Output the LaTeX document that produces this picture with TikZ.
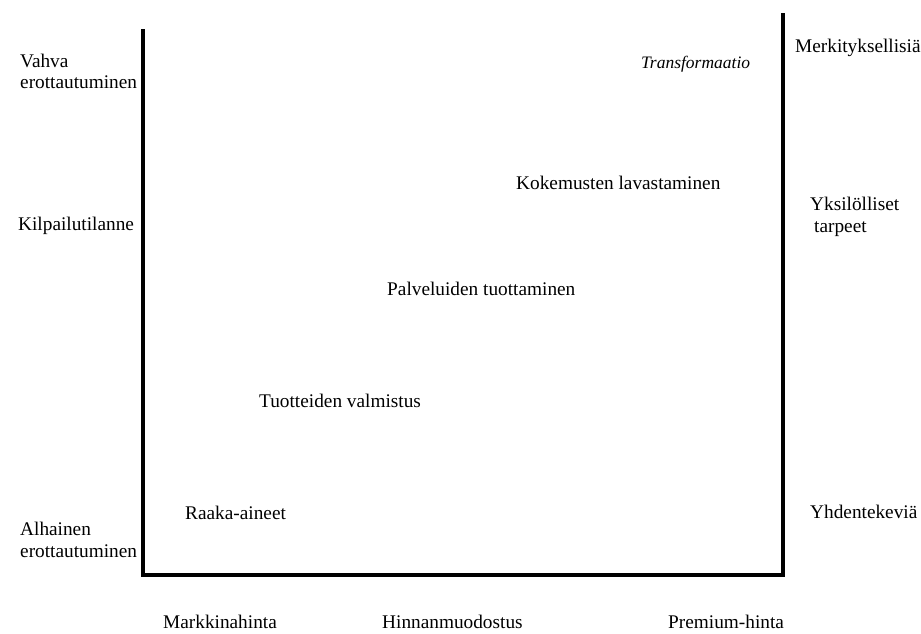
\documentclass[tikz,border=0pt]{standalone}
\usepackage{fontspec}
\setmainfont{Liberation Serif}
\begin{document}
\begin{tikzpicture}[x=1pt,y=-1pt,
  lbl/.style={anchor=base west,inner sep=0pt,font=\fontsize{19.3}{22}\selectfont},
  axis/.style={line width=4pt,line cap=rect}]
\useasboundingbox (0,0) rectangle (921,633);
% labels on the left
\node[lbl] (vahva) at (20,67) {Vahva};
\node[lbl] (vahva2) at (20,88) {erottautuminen};
\node[lbl] (kilp) at (18,230) {Kilpailutilanne};
\node[lbl] (alh) at (20,535) {Alhainen};
\node[lbl] (alh2) at (20,557) {erottautuminen};
% labels inside the frame
\node[lbl,font=\fontsize{17.5}{20}\selectfont\itshape] (trans) at (641,68) {Transformaatio};
\node[lbl] (kok) at (516,189) {Kokemusten lavastaminen};
\node[lbl] (palv) at (387,295) {Palveluiden tuottaminen};
\node[lbl] (tuot) at (259,407) {Tuotteiden valmistus};
\node[lbl] (raaka) at (185,519) {Raaka-aineet};
% labels on the right
\node[lbl] (merk) at (795,52) {Merkityksellisiä};
\node[lbl] (yks) at (810,210) {Yksilölliset};
\node[lbl] (tarp) at (814,232) {tarpeet};
\node[lbl] (yhd) at (810,518) {Yhdentekeviä};
% labels below
\node[lbl] (mark) at (163,628) {Markkinahinta};
\node[lbl] (hinn) at (382,628) {Hinnanmuodostus};
\node[lbl] (prem) at (668,628) {Premium-hinta};
% frame
\coordinate (tl) at (143,31);
\coordinate (bl) at (143,575);
\coordinate (br) at (783,575);
\coordinate (tr) at (783,15);
\draw[axis] (tl) -- (bl) -- (br) -- (tr);
\end{tikzpicture}
\end{document}
